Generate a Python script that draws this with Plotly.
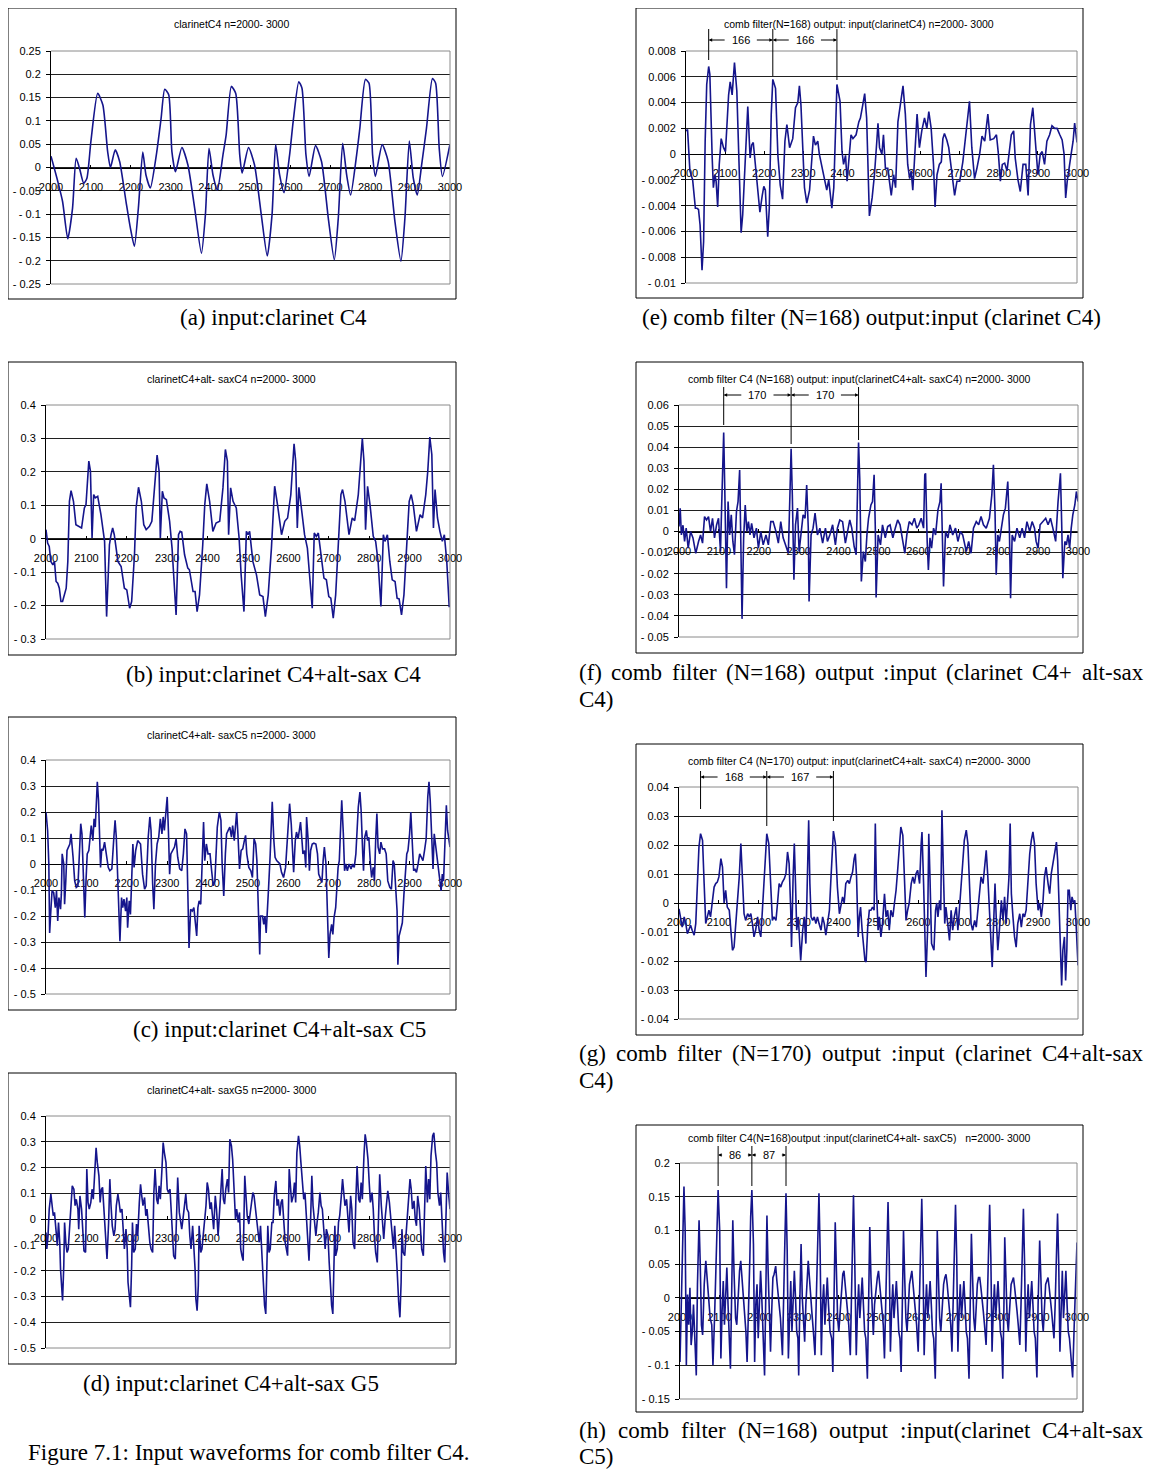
import plotly.graph_objects as go

# page photographed at 1154x1470; the html body adds an 8px margin, so the figure is
# 8px smaller on each axis and every pixel position is shifted by that offset
PAGE_W, PAGE_H = 1154, 1470
OFF = 8
W, H = PAGE_W - OFF, PAGE_H - OFF
SANS = "Liberation Sans, Arial, sans-serif"
SERIF = "Liberation Serif, Times New Roman, serif"
LINE_COLOR = "#15158c"

# ---------------- data (sample index n, amplitude) ----------------
a_pts = [(2000,0.024),(2017,-0.03),(2029,-0.073),(2042,-0.153),(2054,-0.087),(2063,0.02),(2071,0.0),(2082,-0.034),(2090,-0.023),(2100,0.056),(2117,0.159),(2130,0.134),(2142,0.034),(2149,0.0),(2161,0.038),(2172,0.013),(2188,-0.073),(2199,-0.13),(2209,-0.169),(2219,-0.087),(2230,0.033),(2238,-0.016),(2249,-0.044),(2264,0.027),(2276,0.106),(2285,0.168),(2295,0.156),(2303,0.034),(2312,-0.009),(2328,0.043),(2343,0.006),(2360,-0.087),(2377,-0.184),(2387,-0.101),(2396,0.041),(2406,-0.016),(2417,-0.048),(2431,0.027),(2439,0.07),(2452,0.174),(2463,0.159),(2473,0.027),(2479,-0.012),(2495,0.043),(2510,0.006),(2527,-0.101),(2542,-0.19),(2554,-0.101),(2563,0.049),(2573,-0.016),(2584,-0.054),(2598,0.027),(2607,0.099),(2621,0.184),(2629,0.17),(2639,0.027),(2647,-0.019),(2663,0.047),(2678,0.013),(2695,-0.109),(2710,-0.198),(2720,-0.109),(2731,0.052),(2741,-0.016),(2751,-0.059),(2766,0.027),(2774,0.084),(2788,0.189),(2797,0.181),(2806,0.027),(2813,-0.019),(2830,0.049),(2845,0.013),(2862,-0.116),(2877,-0.201),(2887,-0.109),(2898,0.057),(2908,-0.023),(2918,-0.059),(2929,0.006),(2941,0.084),(2956,0.191),(2964,0.181),(2973,0.041),(2981,-0.019),(3000,0.05)]

e_pts = [(2000,0.0018),(2004,0.0019),(2010,-0.0013),(2017,-0.002),(2024,-0.0042),(2028,-0.0042),(2032,-0.0043),(2036,-0.0055),(2041,-0.009),(2045,-0.0068),(2049,0.001),(2053,0.0054),(2058,0.0068),(2061,0.0062),(2067,-0.0003),(2070,-0.0026),(2074,-0.0016),(2077,-0.0021),(2081,-0.0041),(2085,-0.0008),(2090,0.0012),(2096,0.0005),(2101,0.0002),(2109,0.0046),(2113,0.0056),(2118,0.0046),(2124,0.0071),(2130,0.0049),(2137,-0.0021),(2141,-0.0061),(2145,-0.0047),(2151,-0.0006),(2158,0.0037),(2164,-0.0003),(2168,0.0007),(2172,0.0009),(2177,-0.0008),(2183,-0.0026),(2189,-0.0045),(2195,-0.0032),(2199,-0.0025),(2203,-0.0028),(2209,-0.0064),(2213,-0.0042),(2218,0.0031),(2222,0.0058),(2229,0.0051),(2235,-0.0001),(2241,-0.0024),(2247,-0.0035),(2253,0.001),(2258,0.0023),(2265,0.0005),(2273,0.0012),(2280,0.0036),(2286,0.004),(2290,0.0053),(2294,0.0038),(2303,-0.0026),(2309,-0.0038),(2316,-0.0028),(2322,-0.0003),(2326,0.0014),(2331,0.0007),(2337,0.001),(2341,0.0),(2348,-0.001),(2354,-0.0019),(2360,-0.0028),(2365,-0.002),(2373,-0.0042),(2378,-0.0026),(2382,0.0023),(2386,0.0054),(2394,0.0041),(2399,0.0002),(2403,-0.0008),(2408,-0.0001),(2412,-0.0021),(2418,0.0),(2422,0.0015),(2427,0.0012),(2435,0.0015),(2442,0.0025),(2446,0.0028),(2452,0.0038),(2457,0.0047),(2462,0.0028),(2469,-0.0048),(2476,-0.0034),(2482,-0.0016),(2488,0.001),(2491,0.0024),(2495,0.0005),(2501,0.0),(2505,0.0015),(2510,-0.0011),(2516,-0.0011),(2525,-0.0032),(2531,-0.0016),(2536,-0.0026),(2542,0.0025),(2548,0.0038),(2555,0.0053),(2561,0.0031),(2567,-0.0008),(2572,-0.0019),(2576,-0.0013),(2580,-0.0028),(2586,0.0),(2591,0.0031),(2597,0.0005),(2603,0.0018),(2610,0.0028),(2616,0.002),(2621,0.0033),(2627,0.002),(2633,-0.0008),(2637,-0.0041),(2642,-0.0016),(2648,-0.0008),(2653,-0.0006),(2657,0.0012),(2661,0.0016),(2667,0.0011),(2672,0.0005),(2678,-0.0011),(2687,-0.0032),(2693,-0.0021),(2700,-0.0021),(2708,-0.0006),(2717,0.002),(2725,0.0041),(2731,0.0005),(2738,-0.0019),(2744,-0.0011),(2751,0.0),(2757,0.0014),(2764,0.001),(2772,0.0031),(2778,0.0011),(2787,0.0012),(2794,0.0015),(2799,0.0),(2804,-0.0021),(2809,-0.0008),(2815,-0.0007),(2821,-0.0013),(2826,0.0002),(2832,0.0015),(2838,0.0018),(2842,-0.0003),(2849,-0.002),(2855,-0.0029),(2862,-0.0008),(2869,-0.0008),(2875,-0.0032),(2881,0.0023),(2887,0.0036),(2893,0.001),(2900,-0.0016),(2906,0.0),(2911,0.0002),(2917,-0.0008),(2923,0.001),(2930,0.0015),(2936,0.0022),(2943,0.002),(2949,0.002),(2956,0.0015),(2962,0.0011),(2967,0.0),(2971,-0.0034),(2975,-0.0021),(2981,-0.0006),(2985,0.0),(2990,0.001),(2994,0.0024),(3000,0.0009)]

b_pts = [(2000,0.027),(2004,-0.013),(2008,-0.023),(2012,-0.068),(2017,-0.078),(2021,-0.068),(2025,-0.128),(2029,-0.133),(2033,-0.148),(2037,-0.188),(2041,-0.188),(2045,-0.173),(2050,-0.148),(2054,-0.068),(2058,0.112),(2062,0.144),(2068,0.112),(2074,0.042),(2083,0.037),(2088,0.032),(2095,0.092),(2099,0.102),(2106,0.232),(2110,0.202),(2114,0.002),(2118,0.132),(2122,0.122),(2128,0.127),(2136,0.072),(2145,-0.008),(2150,-0.233),(2157,-0.018),(2161,0.012),(2165,0.032),(2169,0.012),(2178,-0.068),(2186,-0.083),(2194,-0.148),(2200,-0.153),(2207,-0.208),(2212,-0.188),(2219,-0.048),(2223,0.092),(2229,0.154),(2236,0.112),(2242,0.042),(2248,0.027),(2256,0.037),(2262,0.052),(2269,0.152),(2275,0.25),(2280,0.202),(2283,0.002),(2288,0.142),(2292,0.122),(2298,0.117),(2306,0.052),(2312,-0.028),(2318,-0.148),(2322,-0.228),(2328,0.012),(2332,0.022),(2336,0.02),(2343,-0.048),(2351,-0.088),(2355,-0.093),(2364,-0.158),(2369,-0.158),(2374,-0.218),(2380,-0.168),(2388,-0.018),(2393,0.102),(2398,0.164),(2405,0.112),(2413,0.022),(2421,0.047),(2430,0.052),(2438,0.152),(2444,0.267),(2449,0.232),(2452,0.012),(2457,0.152),(2463,0.112),(2471,0.092),(2478,0.002),(2483,-0.108),(2490,-0.218),(2496,0.022),(2500,0.012),(2504,0.022),(2512,-0.068),(2521,-0.108),(2529,-0.168),(2537,-0.173),(2543,-0.233),(2550,-0.168),(2558,-0.028),(2562,0.092),(2566,0.157),(2573,0.102),(2583,0.012),(2591,0.052),(2598,0.062),(2606,0.132),(2614,0.284),(2618,0.232),(2622,0.032),(2626,0.154),(2632,0.092),(2640,0.012),(2647,-0.028),(2653,-0.108),(2659,-0.208),(2664,0.017),(2669,0.007),(2674,0.017),(2682,-0.068),(2688,-0.118),(2694,-0.123),(2700,-0.173),(2705,-0.178),(2711,-0.238),(2717,-0.168),(2725,0.002),(2730,0.132),(2734,0.147),(2740,0.112),(2750,0.012),(2758,0.062),(2764,0.054),(2773,0.132),(2783,0.3),(2787,0.232),(2791,0.027),(2796,0.157),(2802,0.102),(2810,0.007),(2816,-0.008),(2822,-0.068),(2829,-0.203),(2835,0.012),(2839,-0.008),(2845,0.012),(2851,-0.068),(2857,-0.123),(2864,-0.128),(2869,-0.178),(2874,-0.18),(2880,-0.228),(2886,-0.168),(2893,-0.008),(2899,0.112),(2904,0.132),(2909,0.102),(2917,0.022),(2926,0.072),(2932,0.062),(2940,0.132),(2945,0.202),(2950,0.304),(2955,0.252),(2959,0.032),(2963,0.147),(2969,0.062),(2975,0.022),(2981,-0.008),(2986,0.012),(2992,-0.068),(2998,-0.203),(3000,-0.203)]

f_pts = [(2000,0.0024),(2003,0.011),(2006,-0.0016),(2010,0.003),(2014,-0.0047),(2018,0.0016),(2023,-0.0079),(2029,0.0),(2035,-0.003),(2042,-0.0103),(2049,-0.0047),(2054,-0.0016),(2059,-0.0055),(2064,0.0071),(2069,0.0055),(2074,0.0071),(2079,0.0),(2084,0.0063),(2089,-0.003),(2094,0.003),(2099,0.0063),(2104,-0.0095),(2107,0.0126),(2110,0.0316),(2112,0.0469),(2115,0.0174),(2119,-0.0269),(2123,0.0142),(2127,-0.0016),(2131,0.0079),(2135,-0.0047),(2139,-0.011),(2144,0.0095),(2148,0.0142),(2152,0.0292),(2156,-0.0174),(2158,-0.0414),(2162,-0.003),(2166,0.0126),(2170,0.0),(2174,0.0047),(2178,-0.0016),(2182,0.0039),(2188,-0.003),(2194,0.0016),(2199,-0.0079),(2205,0.0),(2211,-0.0063),(2218,-0.0016),(2224,-0.0063),(2230,0.0047),(2236,0.0047),(2243,0.0),(2249,-0.0055),(2255,0.0047),(2261,-0.003),(2268,-0.0071),(2274,-0.0103),(2278,0.0174),(2281,0.0392),(2284,0.0174),(2288,-0.0229),(2292,0.0032),(2297,0.0111),(2301,-0.0095),(2305,-0.0016),(2311,0.0079),(2316,0.0063),(2320,0.0221),(2324,0.0016),(2326,-0.0332),(2331,-0.0016),(2336,0.0016),(2341,0.0087),(2347,-0.0016),(2353,0.0016),(2360,-0.0055),(2367,0.0016),(2372,-0.0047),(2378,-0.0016),(2385,0.0032),(2392,-0.0063),(2397,0.0016),(2403,0.0055),(2410,0.0047),(2417,-0.0055),(2423,0.0),(2428,0.0055),(2433,0.0016),(2439,-0.0071),(2444,-0.011),(2447,0.0111),(2450,0.0422),(2453,0.0253),(2457,-0.0237),(2462,-0.0095),(2467,-0.0142),(2471,-0.0016),(2475,0.0063),(2481,0.0126),(2485,0.0142),(2489,0.0269),(2492,0.0016),(2494,-0.0313),(2499,-0.0016),(2505,-0.0063),(2510,0.0032),(2517,-0.003),(2523,0.0024),(2529,0.0032),(2536,-0.003),(2542,0.0016),(2548,0.0055),(2554,0.0032),(2561,-0.0047),(2566,-0.0103),(2571,-0.0016),(2577,0.0047),(2584,0.0032),(2590,0.0063),(2596,0.0016),(2601,0.0032),(2607,0.0063),(2613,0.0016),(2616,0.0269),(2618,0.0276),(2622,-0.0047),(2625,-0.0182),(2629,-0.003),(2633,-0.0079),(2638,0.0016),(2643,-0.0016),(2649,0.0103),(2654,0.0142),(2657,0.0229),(2660,-0.0079),(2663,-0.0261),(2668,0.0),(2674,-0.003),(2679,0.0032),(2686,-0.0016),(2693,0.0016),(2699,-0.0047),(2705,0.0),(2711,-0.0016),(2720,-0.0095),(2726,-0.0047),(2732,-0.0103),(2738,0.0016),(2745,0.0047),(2751,0.0032),(2757,0.0071),(2763,0.0032),(2770,0.0016),(2778,0.0063),(2784,0.0174),(2788,0.0316),(2792,0.0095),(2795,-0.0205),(2799,-0.0016),(2803,-0.0047),(2808,0.0016),(2813,0.0079),(2818,0.0111),(2824,0.0237),(2828,0.0016),(2831,-0.0316),(2835,-0.0016),(2841,-0.0047),(2847,0.0016),(2854,-0.003),(2860,0.0016),(2866,-0.003),(2872,0.0047),(2879,0.0),(2885,0.0047),(2891,0.0016),(2895,-0.0047),(2900,-0.0079),(2905,0.0032),(2912,0.0047),(2919,0.0063),(2925,0.0032),(2931,0.0063),(2937,0.0016),(2944,-0.0047),(2950,0.0142),(2956,0.0276),(2959,0.0047),(2962,-0.0221),(2967,-0.0047),(2971,-0.0063),(2975,-0.0016),(2979,-0.0079),(2983,0.0016),(2987,0.0079),(2992,0.0126),(2996,0.019),(3000,0.0142)]

c_pts = [(2000,0.2),(2004,0.129),(2007,0.0),(2009,-0.265),(2012,-0.18),(2015,-0.103),(2019,-0.11),(2023,-0.168),(2026,-0.103),(2029,-0.219),(2032,-0.129),(2036,-0.174),(2038,-0.116),(2040,0.039),(2044,0.0),(2046,-0.155),(2049,-0.065),(2052,0.052),(2059,0.077),(2062,0.116),(2067,0.026),(2071,-0.065),(2075,-0.09),(2079,-0.084),(2083,0.052),(2086,0.155),(2089,0.116),(2093,-0.065),(2096,-0.206),(2099,-0.065),(2102,0.039),(2106,0.052),(2109,0.103),(2112,0.148),(2116,0.09),(2119,0.174),(2122,0.142),(2125,0.232),(2127,0.316),(2130,0.245),(2132,0.09),(2135,-0.013),(2138,0.058),(2141,0.052),(2145,0.084),(2150,0.039),(2154,-0.013),(2158,-0.026),(2163,-0.019),(2168,0.103),(2171,0.168),(2174,0.103),(2178,-0.065),(2181,-0.245),(2183,-0.297),(2187,-0.129),(2190,-0.168),(2193,-0.135),(2197,-0.181),(2200,-0.129),(2202,-0.245),(2206,-0.142),(2209,-0.194),(2212,-0.065),(2215,0.077),(2218,-0.013),(2222,0.052),(2227,0.09),(2234,0.077),(2239,-0.039),(2244,-0.097),(2248,-0.084),(2253,0.103),(2257,0.181),(2260,0.129),(2264,-0.077),(2267,-0.174),(2271,0.0),(2275,0.077),(2279,0.103),(2283,0.174),(2287,0.116),(2290,0.181),(2293,0.129),(2296,0.181),(2300,0.258),(2303,0.129),(2306,-0.039),(2309,0.039),(2313,0.052),(2318,0.065),(2322,0.097),(2326,0.026),(2331,-0.019),(2336,-0.026),(2340,0.039),(2344,0.135),(2348,0.116),(2351,-0.09),(2354,-0.323),(2358,-0.174),(2362,-0.181),(2366,-0.168),(2369,-0.219),(2373,-0.277),(2376,-0.168),(2379,-0.142),(2383,-0.155),(2387,0.0),(2390,0.161),(2393,0.013),(2397,0.077),(2401,0.039),(2406,0.039),(2410,-0.026),(2414,-0.084),(2418,-0.065),(2421,0.039),(2424,0.142),(2429,0.2),(2433,0.168),(2436,0.0),(2440,-0.123),(2444,0.039),(2447,0.116),(2451,0.129),(2455,0.142),(2459,0.103),(2462,0.148),(2466,0.09),(2469,0.148),(2472,0.2),(2475,0.116),(2479,-0.019),(2483,0.052),(2487,0.058),(2491,0.09),(2494,0.11),(2497,0.039),(2502,-0.013),(2507,-0.026),(2511,-0.052),(2515,0.097),(2519,0.077),(2522,0.013),(2525,-0.129),(2527,-0.284),(2529,-0.348),(2531,-0.2),(2536,-0.2),(2539,-0.232),(2542,-0.2),(2545,-0.265),(2548,-0.194),(2551,-0.09),(2555,0.039),(2558,0.168),(2560,0.239),(2564,0.09),(2567,0.026),(2571,0.013),(2575,0.006),(2579,0.0),(2583,-0.032),(2588,-0.052),(2593,-0.013),(2596,0.052),(2599,0.129),(2603,0.232),(2607,0.155),(2610,0.039),(2613,-0.032),(2617,0.09),(2620,0.123),(2624,0.097),(2627,0.135),(2630,0.161),(2633,0.103),(2636,0.039),(2640,0.052),(2643,-0.013),(2645,0.181),(2649,0.09),(2652,-0.026),(2655,0.052),(2659,0.077),(2663,0.08),(2668,0.077),(2672,0.039),(2675,-0.039),(2679,-0.058),(2683,-0.071),(2686,0.013),(2689,0.065),(2693,0.0),(2695,-0.129),(2698,-0.271),(2700,-0.361),(2703,-0.271),(2707,-0.232),(2710,-0.271),(2713,-0.206),(2717,-0.168),(2720,-0.09),(2723,-0.013),(2726,0.013),(2729,0.116),(2732,0.245),(2736,0.116),(2739,-0.026),(2742,0.0),(2746,-0.026),(2750,0.0),(2755,-0.019),(2759,0.0),(2763,-0.013),(2767,0.039),(2770,0.129),(2773,0.219),(2777,0.277),(2780,0.206),(2784,0.039),(2786,-0.026),(2789,0.103),(2793,0.129),(2796,0.09),(2799,0.103),(2803,0.0),(2806,-0.052),(2810,-0.013),(2813,-0.065),(2816,0.09),(2819,0.194),(2822,0.065),(2826,0.039),(2829,0.084),(2833,0.058),(2838,0.058),(2842,0.039),(2846,-0.065),(2851,-0.09),(2855,-0.097),(2859,0.013),(2862,0.0),(2865,-0.065),(2869,-0.181),(2871,-0.387),(2874,-0.277),(2878,-0.252),(2882,-0.226),(2886,-0.116),(2889,-0.039),(2893,0.039),(2896,0.052),(2900,0.116),(2903,0.2),(2907,0.052),(2910,-0.026),(2913,-0.019),(2917,-0.032),(2921,0.0),(2925,0.039),(2929,0.026),(2933,0.013),(2937,0.052),(2941,0.097),(2945,0.258),(2948,0.316),(2951,0.245),(2955,0.077),(2958,-0.019),(2961,0.116),(2964,0.077),(2968,0.013),(2971,-0.013),(2974,-0.065),(2978,-0.103),(2981,-0.039),(2984,-0.065),(2988,0.103),(2991,0.226),(2994,0.129),(2997,0.09),(3000,0.065)]

g_pts = [(2000,-0.002),(2004,-0.0048),(2008,-0.0083),(2013,-0.0048),(2017,-0.0071),(2021,-0.0106),(2025,-0.0089),(2029,-0.0077),(2033,-0.0094),(2038,-0.0111),(2042,-0.0071),(2046,0.0067),(2050,0.0193),(2054,0.0239),(2059,0.0216),(2063,0.0067),(2067,-0.0071),(2071,-0.0048),(2075,-0.0025),(2079,-0.0048),(2084,0.0021),(2088,0.0055),(2092,0.0067),(2096,0.0072),(2100,0.009),(2105,0.0153),(2109,0.0124),(2113,0.0),(2117,0.0044),(2121,-0.0014),(2126,-0.0025),(2130,-0.0094),(2134,-0.0163),(2138,-0.0152),(2142,-0.0071),(2146,-0.0025),(2151,0.009),(2155,0.0205),(2159,0.009),(2163,-0.0037),(2167,-0.006),(2172,-0.0037),(2176,-0.0048),(2180,-0.0037),(2184,-0.0071),(2188,-0.0117),(2192,-0.0094),(2197,-0.0048),(2201,-0.0094),(2205,-0.0117),(2209,-0.0025),(2213,0.009),(2217,0.0193),(2220,0.0239),(2225,0.0205),(2230,0.0055),(2234,-0.006),(2238,-0.0048),(2243,-0.006),(2247,0.0),(2251,0.0067),(2255,0.0055),(2259,0.0072),(2264,0.0084),(2268,0.0101),(2272,0.0176),(2276,0.0136),(2280,-0.0025),(2282,-0.0152),(2286,0.009),(2289,0.0205),(2292,0.0067),(2295,-0.0094),(2299,-0.0048),(2302,-0.014),(2305,-0.0198),(2310,-0.0094),(2314,-0.0048),(2318,-0.014),(2321,0.0055),(2325,0.0285),(2328,0.0067),(2331,-0.0048),(2335,-0.006),(2339,-0.0048),(2343,-0.0071),(2347,-0.0048),(2351,-0.0071),(2356,-0.0094),(2360,-0.0048),(2364,-0.0071),(2368,-0.0111),(2372,-0.0071),(2377,-0.0025),(2381,0.009),(2384,0.0205),(2387,0.0248),(2392,0.0205),(2397,0.0055),(2402,-0.0037),(2406,0.0),(2410,0.0021),(2414,0.0),(2418,0.0067),(2423,0.0078),(2427,0.0067),(2431,0.009),(2435,0.0107),(2439,0.0153),(2442,0.017),(2445,0.009),(2449,-0.0117),(2452,-0.0048),(2455,-0.0014),(2459,-0.0094),(2462,-0.014),(2466,-0.0198),(2469,-0.0203),(2473,-0.0083),(2477,-0.0025),(2481,-0.0025),(2485,-0.0014),(2489,-0.0025),(2492,0.0274),(2495,0.0044),(2499,-0.0094),(2502,-0.0048),(2506,-0.0117),(2510,-0.0071),(2515,0.0032),(2519,-0.0048),(2523,-0.0025),(2527,-0.0094),(2531,-0.0025),(2536,-0.0048),(2540,0.0),(2544,0.0044),(2548,0.0113),(2552,0.0205),(2556,0.0262),(2561,0.0233),(2565,0.009),(2569,-0.006),(2573,-0.0025),(2577,0.0),(2582,0.0067),(2586,0.009),(2590,0.0067),(2594,0.0101),(2598,0.0113),(2603,0.0067),(2607,0.0205),(2609,0.0245),(2613,0.0067),(2616,-0.014),(2619,-0.0255),(2623,-0.0094),(2626,0.0239),(2629,0.009),(2633,-0.014),(2636,-0.0152),(2639,-0.0163),(2643,-0.0025),(2646,0.0),(2649,-0.0048),(2653,0.0009),(2656,-0.0025),(2659,0.032),(2663,0.009),(2666,-0.0071),(2669,-0.0014),(2674,-0.0094),(2678,-0.0129),(2682,-0.0025),(2686,-0.0094),(2690,-0.0048),(2695,-0.0014),(2699,-0.0094),(2703,-0.0025),(2707,0.0044),(2711,0.0136),(2715,0.0216),(2720,0.0251),(2724,0.0205),(2728,0.0067),(2732,-0.0071),(2736,-0.0094),(2741,-0.006),(2745,-0.0083),(2749,-0.0025),(2753,0.0044),(2757,0.009),(2762,0.0067),(2766,0.0136),(2770,0.0182),(2774,0.009),(2778,-0.0025),(2782,-0.014),(2785,-0.0221),(2788,-0.0094),(2792,0.0067),(2795,-0.0048),(2799,-0.0163),(2803,-0.0094),(2808,0.0009),(2812,-0.006),(2816,0.0021),(2820,-0.0071),(2827,0.009),(2830,0.0274),(2833,0.0032),(2837,-0.0048),(2841,-0.0117),(2845,-0.0152),(2849,-0.0071),(2854,-0.0037),(2858,-0.0083),(2862,-0.0037),(2866,-0.0048),(2870,-0.0025),(2874,0.0067),(2879,0.017),(2883,0.0216),(2887,0.0245),(2891,0.0205),(2895,0.0067),(2900,-0.0025),(2904,0.0),(2908,-0.0048),(2912,0.0),(2916,0.009),(2920,0.0124),(2925,0.0067),(2929,0.0032),(2933,0.0101),(2937,0.0136),(2941,0.0159),(2946,0.021),(2949,0.0147),(2953,-0.0025),(2956,-0.0198),(2959,-0.0284),(2962,-0.0163),(2966,-0.0117),(2969,-0.0267),(2972,-0.0163),(2975,0.0044),(2978,0.0044),(2982,-0.0025),(2985,0.0021),(2989,0.0),(2992,0.0009),(2996,-0.0094),(3000,-0.0215)]

d_pts = [(2000,-0.052),(2002,-0.116),(2005,-0.065),(2008,0.039),(2012,0.097),(2015,0.039),(2018,0.013),(2021,0.026),(2025,-0.052),(2028,-0.103),(2031,-0.013),(2034,-0.09),(2036,-0.194),(2039,-0.29),(2041,-0.316),(2044,-0.181),(2046,-0.013),(2049,-0.09),(2052,-0.129),(2055,-0.116),(2059,-0.026),(2062,0.039),(2065,0.129),(2069,0.116),(2072,0.052),(2075,0.077),(2079,0.039),(2081,-0.039),(2084,0.09),(2088,0.039),(2091,-0.052),(2094,-0.123),(2098,-0.129),(2101,0.194),(2104,0.065),(2107,0.039),(2111,0.065),(2114,0.116),(2117,0.077),(2121,0.194),(2124,0.277),(2127,0.219),(2131,0.168),(2134,0.065),(2137,0.116),(2140,0.123),(2144,0.013),(2147,-0.09),(2151,-0.155),(2155,-0.013),(2158,0.155),(2161,0.052),(2164,-0.026),(2168,-0.065),(2171,-0.039),(2174,0.052),(2178,0.097),(2181,0.065),(2184,0.026),(2188,0.039),(2191,-0.052),(2194,-0.116),(2198,-0.039),(2201,-0.116),(2203,-0.245),(2206,-0.31),(2209,-0.342),(2212,-0.181),(2214,-0.013),(2217,-0.129),(2221,-0.116),(2224,-0.019),(2227,-0.065),(2231,0.065),(2234,0.135),(2237,0.09),(2240,0.052),(2244,0.084),(2247,0.013),(2250,0.039),(2254,-0.052),(2257,-0.09),(2260,-0.116),(2264,-0.129),(2267,0.103),(2270,0.194),(2274,0.077),(2277,0.058),(2280,0.129),(2283,0.077),(2287,0.194),(2290,0.297),(2293,0.258),(2297,0.219),(2300,0.116),(2303,0.103),(2307,0.116),(2310,0.039),(2313,-0.026),(2316,-0.142),(2320,-0.155),(2323,0.039),(2326,0.161),(2330,0.026),(2333,-0.019),(2336,-0.039),(2339,0.0),(2343,0.065),(2346,0.097),(2349,0.039),(2353,0.026),(2356,-0.065),(2359,-0.116),(2363,-0.026),(2366,-0.09),(2369,-0.194),(2371,-0.31),(2374,-0.355),(2377,-0.258),(2379,-0.026),(2383,-0.129),(2386,-0.116),(2389,-0.065),(2393,0.0),(2396,0.052),(2399,0.142),(2402,0.116),(2406,0.039),(2409,0.065),(2412,0.013),(2415,-0.039),(2419,0.09),(2422,0.039),(2426,-0.065),(2429,0.039),(2432,0.09),(2436,0.194),(2439,0.077),(2442,0.058),(2445,0.116),(2449,0.155),(2452,0.103),(2455,0.31),(2459,0.284),(2462,0.232),(2465,0.129),(2469,0.0),(2472,0.039),(2476,-0.013),(2479,0.026),(2482,-0.116),(2485,-0.142),(2488,-0.161),(2492,0.168),(2495,0.103),(2498,0.013),(2502,-0.019),(2505,0.013),(2508,0.052),(2512,0.103),(2515,0.09),(2518,0.039),(2521,0.0),(2525,-0.052),(2528,-0.09),(2531,-0.026),(2535,-0.155),(2538,-0.284),(2541,-0.335),(2544,-0.368),(2546,-0.194),(2549,-0.026),(2552,-0.129),(2555,-0.116),(2559,-0.013),(2562,-0.013),(2565,0.09),(2569,0.148),(2572,0.052),(2575,0.077),(2579,0.013),(2582,0.065),(2585,0.077),(2588,0.0),(2592,-0.09),(2595,-0.116),(2598,-0.142),(2602,0.194),(2605,0.103),(2608,0.065),(2612,0.09),(2615,0.142),(2618,0.065),(2621,0.258),(2625,0.323),(2628,0.284),(2631,0.219),(2635,0.129),(2638,0.077),(2641,0.103),(2645,0.013),(2648,-0.09),(2651,-0.161),(2655,0.0),(2658,0.168),(2661,0.052),(2665,-0.026),(2668,-0.065),(2671,-0.013),(2674,0.026),(2678,0.103),(2681,0.052),(2684,0.039),(2688,-0.039),(2691,-0.116),(2694,-0.039),(2698,-0.065),(2701,-0.168),(2704,-0.284),(2707,-0.335),(2710,-0.368),(2712,-0.219),(2715,-0.026),(2717,-0.142),(2721,-0.116),(2724,-0.013),(2727,0.013),(2731,0.09),(2734,0.155),(2737,0.103),(2740,0.052),(2744,0.077),(2747,0.0),(2750,-0.052),(2754,0.09),(2757,0.039),(2760,-0.09),(2764,-0.116),(2767,0.077),(2770,0.206),(2774,0.077),(2777,0.065),(2780,0.142),(2783,0.077),(2787,0.245),(2790,0.329),(2793,0.297),(2797,0.232),(2800,0.142),(2803,0.065),(2807,0.103),(2810,0.039),(2813,-0.065),(2816,-0.129),(2820,-0.168),(2823,0.0),(2826,0.174),(2830,0.052),(2833,-0.039),(2836,-0.077),(2840,0.013),(2843,0.065),(2846,0.11),(2850,0.065),(2853,0.013),(2856,-0.065),(2860,-0.116),(2863,-0.026),(2866,-0.09),(2869,-0.194),(2873,-0.323),(2876,-0.381),(2879,-0.245),(2881,-0.039),(2884,-0.129),(2888,-0.142),(2891,-0.065),(2894,0.013),(2898,0.09),(2901,0.155),(2904,0.116),(2907,0.039),(2911,0.071),(2914,0.0),(2917,-0.026),(2920,0.09),(2924,0.039),(2927,-0.052),(2930,-0.116),(2934,-0.142),(2937,0.09),(2940,0.206),(2944,0.065),(2947,0.155),(2950,0.077),(2953,0.245),(2957,0.323),(2960,0.335),(2964,0.258),(2967,0.219),(2970,0.103),(2974,0.052),(2977,0.103),(2980,0.0),(2984,-0.129),(2987,-0.168),(2990,0.039),(2993,0.181),(2997,0.09),(3000,0.039)]

h_pts = [(2000,-0.095),(2004,0.03),(2007,0.12),(2010,0.165),(2013,0.1),(2016,-0.1),(2019,0.005),(2022,-0.04),(2025,0.015),(2028,-0.07),(2031,-0.05),(2034,-0.01),(2038,-0.07),(2041,-0.115),(2044,0.02),(2048,0.115),(2051,0.05),(2054,-0.04),(2057,-0.055),(2061,0.02),(2065,0.055),(2068,0.03),(2072,0.0),(2076,-0.03),(2080,-0.04),(2083,-0.1),(2087,-0.03),(2090,0.05),(2093,0.1),(2096,0.16),(2100,0.1),(2103,-0.09),(2106,-0.02),(2109,0.025),(2112,-0.04),(2115,0.0),(2118,0.045),(2121,-0.01),(2124,-0.06),(2127,-0.105),(2130,0.0),(2133,0.115),(2136,0.04),(2140,-0.03),(2143,-0.04),(2147,0.01),(2150,0.04),(2153,0.055),(2156,0.03),(2160,0.005),(2163,-0.02),(2166,-0.05),(2169,-0.095),(2173,-0.02),(2176,0.06),(2178,0.12),(2181,0.16),(2185,0.08),(2188,-0.095),(2191,-0.01),(2194,0.02),(2197,-0.06),(2200,-0.02),(2203,0.04),(2206,0.0),(2209,-0.05),(2213,-0.115),(2216,0.0),(2219,0.122),(2222,0.04),(2225,-0.04),(2228,-0.08),(2231,-0.02),(2234,0.03),(2237,0.035),(2241,0.047),(2244,0.025),(2247,0.005),(2250,-0.005),(2253,-0.03),(2258,-0.085),(2261,-0.02),(2264,0.08),(2267,0.155),(2270,0.07),(2273,-0.09),(2276,-0.02),(2279,0.025),(2282,-0.05),(2285,0.0),(2288,0.04),(2291,0.0),(2294,-0.05),(2297,-0.06),(2299,-0.115),(2302,0.0),(2305,0.08),(2308,0.0),(2311,-0.04),(2314,-0.065),(2317,-0.01),(2320,0.02),(2323,0.055),(2326,0.03),(2329,0.0),(2332,-0.02),(2336,-0.05),(2340,-0.085),(2343,-0.01),(2346,0.08),(2350,0.155),(2353,0.07),(2356,-0.085),(2359,-0.01),(2362,0.02),(2365,-0.04),(2368,0.0),(2371,0.03),(2374,-0.01),(2378,-0.05),(2382,-0.06),(2385,-0.11),(2388,0.0),(2391,0.112),(2394,0.04),(2397,-0.03),(2400,-0.05),(2404,-0.01),(2407,0.02),(2410,0.035),(2413,0.04),(2416,0.02),(2419,0.0),(2422,-0.02),(2425,-0.04),(2429,-0.085),(2432,-0.01),(2435,0.08),(2437,0.152),(2440,0.06),(2444,-0.085),(2447,-0.02),(2450,0.02),(2453,-0.03),(2456,0.0),(2459,0.03),(2462,-0.01),(2465,-0.05),(2468,-0.06),(2472,-0.12),(2475,-0.01),(2478,0.105),(2481,0.03),(2484,-0.03),(2487,-0.055),(2490,-0.01),(2494,0.02),(2497,0.03),(2500,0.04),(2503,0.02),(2506,0.0),(2509,-0.02),(2512,-0.04),(2515,-0.09),(2518,-0.01),(2521,0.07),(2524,0.142),(2527,0.06),(2530,-0.08),(2533,-0.02),(2536,0.02),(2539,-0.03),(2542,0.0),(2545,0.025),(2548,-0.01),(2551,-0.05),(2554,-0.06),(2557,-0.11),(2560,-0.01),(2563,0.1),(2566,0.03),(2569,-0.03),(2572,-0.05),(2575,-0.01),(2578,0.02),(2581,0.03),(2584,0.04),(2587,0.02),(2590,0.0),(2593,-0.02),(2596,-0.04),(2600,-0.08),(2603,-0.01),(2606,0.07),(2609,0.147),(2612,0.06),(2615,-0.085),(2618,-0.02),(2621,0.02),(2624,-0.03),(2627,0.0),(2630,0.025),(2633,-0.01),(2636,-0.05),(2639,-0.06),(2643,-0.12),(2646,-0.01),(2648,0.1),(2651,0.03),(2654,-0.03),(2657,-0.05),(2660,-0.01),(2664,0.02),(2667,0.03),(2670,0.035),(2673,0.02),(2676,0.0),(2679,-0.02),(2682,-0.04),(2685,-0.08),(2688,-0.01),(2691,0.07),(2694,0.138),(2697,0.06),(2700,-0.08),(2703,-0.02),(2706,0.02),(2709,-0.03),(2712,0.0),(2715,0.025),(2718,-0.01),(2721,-0.05),(2724,-0.06),(2728,-0.12),(2731,-0.01),(2734,0.095),(2737,0.03),(2740,-0.03),(2743,-0.05),(2746,-0.01),(2749,0.02),(2752,0.03),(2755,0.03),(2758,0.015),(2761,0.0),(2764,-0.02),(2767,-0.04),(2771,-0.07),(2774,-0.01),(2777,0.07),(2780,0.138),(2783,0.06),(2786,-0.08),(2789,-0.02),(2792,0.02),(2795,-0.03),(2798,0.0),(2801,0.025),(2804,-0.01),(2807,-0.05),(2810,-0.06),(2813,-0.12),(2816,-0.01),(2818,0.09),(2821,0.03),(2824,-0.03),(2827,-0.05),(2830,-0.01),(2834,0.02),(2837,0.025),(2840,0.03),(2843,0.015),(2846,0.0),(2849,-0.02),(2852,-0.04),(2856,-0.07),(2859,-0.01),(2862,0.07),(2865,0.132),(2868,0.05),(2871,-0.08),(2874,-0.02),(2877,0.02),(2880,-0.03),(2883,0.0),(2886,0.025),(2889,-0.01),(2892,-0.05),(2895,-0.06),(2899,-0.118),(2902,-0.01),(2906,0.085),(2909,0.03),(2912,-0.03),(2915,-0.05),(2918,-0.01),(2921,0.02),(2924,0.025),(2927,0.03),(2930,0.015),(2933,0.0),(2936,-0.02),(2939,-0.04),(2942,-0.06),(2945,-0.01),(2948,0.06),(2951,0.125),(2954,0.05),(2957,-0.08),(2960,-0.02),(2963,0.04),(2966,-0.03),(2969,0.0),(2972,0.04),(2975,-0.01),(2978,-0.05),(2981,-0.06),(2985,-0.09),(2989,-0.118),(2993,-0.04),(2996,0.03),(3000,0.082)]

x_ticks = list(range(2000, 3001, 100))

titles = {
    "a": "clarinetC4 n=2000- 3000",
    "e": "comb filter(N=168) output: input(clarinetC4) n=2000- 3000",
    "b": "clarinetC4+alt- saxC4 n=2000- 3000",
    "f": "comb filter C4 (N=168) output: input(clarinetC4+alt- saxC4) n=2000- 3000",
    "c": "clarinetC4+alt- saxC5 n=2000- 3000",
    "g": "comb filter C4 (N=170) output: input(clarinetC4+alt- saxC4) n=2000- 3000",
    "d": "clarinetC4+alt- saxG5 n=2000- 3000",
    "h": "comb filter C4(N=168)output :input(clarinetC4+alt- saxC5)   n=2000- 3000",
}

# period markers on the comb-filter outputs: marker positions (n) and interval labels
marks = {
    "e": ([2058, 2222, 2386], ["166", "166"]),
    "f": ([2112, 2281, 2450], ["170", "170"]),
    "g": ([2054, 2220, 2387], ["168", "167"]),
    "h": ([2096, 2181, 2267], ["86", "87"]),
}

# ---------------- layout geometry (page pixels) ----------------
P = [
    # key, pts, plot(l,t,r,b), box(l,t,r,b), yrange, dtick, title(x,y), spline
    ("a", a_pts, (51, 51, 450, 284), (8, 8, 456, 299), (-0.25, 0.25), 0.05, (231, 24), True),
    ("e", e_pts, (686, 51, 1077, 283), (636, 8, 1083, 298), (-0.01, 0.008), 0.002, (859, 24), False),
    ("b", b_pts, (46, 405, 450, 639), (8, 362, 456, 655), (-0.3, 0.4), 0.1, (231, 379), False),
    ("f", f_pts, (679, 405, 1078, 637), (636, 362, 1083, 653), (-0.05, 0.06), 0.01, (859, 379), False),
    ("c", c_pts, (46, 760, 450, 994), (8, 717, 456, 1010), (-0.5, 0.4), 0.1, (231, 735), False),
    ("g", g_pts, (679, 787, 1078, 1019), (636, 744, 1083, 1035), (-0.04, 0.04), 0.01, (859, 761), False),
    ("d", d_pts, (46, 1116, 450, 1348), (8, 1073, 456, 1364), (-0.5, 0.4), 0.1, (231, 1090), False),
    ("h", h_pts, (680, 1163, 1077, 1399), (636, 1125, 1083, 1412), (-0.15, 0.2), 0.05, (859, 1138), False),
]
# marker geometry: (top px, bottoms px, arrow y px)
MG = {
    "e": (29, [60, 76, 80], 40),
    "f": (387, [425, 444, 440], 395),
    "g": (771, [809, 826, 821], 777),
    "h": (1146, [1186, 1186, 1186], 1155),
}

def px(x):
    return (x - OFF) / W

def py(y):
    return 1 - (y - OFF) / H

def fmt(v):
    if abs(v) < 1e-12:
        return "0"
    s = "%g" % abs(v)
    return s if v > 0 else "- " + s

fig = go.Figure()
shapes, annots = [], []
layout = {}

for i, (key, pts, (l, t, r, b), box, (y0, y1), dt, (tx, ty), smooth) in enumerate(P, start=1):
    xn = "x" if i == 1 else "x%d" % i
    yn = "y" if i == 1 else "y%d" % i
    n = [p[0] for p in pts]
    v = [p[1] for p in pts]
    fig.add_trace(go.Scatter(
        x=n, y=v, xaxis=xn, yaxis=yn, mode="lines",
        line=dict(color=LINE_COLOR, width=1.6, shape="spline" if smooth else "linear", smoothing=0.6),
        hoverinfo="skip", showlegend=False))
    nt = int(round((y1 - y0) / dt))
    yt = [round(y0 + k * dt, 6) for k in range(nt + 1)]
    dom_y = [py(b), py(t)]
    zero_pos = dom_y[0] + (0 - y0) / (y1 - y0) * (dom_y[1] - dom_y[0])
    layout["xaxis" if i == 1 else "xaxis%d" % i] = dict(
        domain=[px(l), px(r)], range=[2000, 3000], anchor="free", position=zero_pos,
        automargin=False,
        tickmode="array", tickvals=x_ticks, ticktext=[str(x) for x in x_ticks],
        showgrid=False, zeroline=False, showline=True, linecolor="black", linewidth=1,
        ticks="inside", ticklen=3, tickcolor="black", ticklabelstandoff=9,
        tickfont=dict(family=SANS, size=11, color="black"), layer="below traces", fixedrange=True)
    layout["yaxis" if i == 1 else "yaxis%d" % i] = dict(
        domain=dom_y, range=[y0, y1], anchor=xn, automargin=False,
        tickmode="array", tickvals=yt, ticktext=[fmt(x) for x in yt],
        showgrid=True, gridcolor="#202020", gridwidth=1, zeroline=False,
        showline=True, linecolor="black", linewidth=1,
        ticks="outside", ticklen=4, tickcolor="black", ticklabelstandoff=3,
        tickfont=dict(family=SANS, size=11, color="black"), fixedrange=True)
    # outer chart box
    shapes.append(dict(type="rect", xref="paper", yref="paper",
                       x0=px(box[0]), x1=px(box[2]), y0=py(box[3]), y1=py(box[1]),
                       line=dict(color="black", width=1), layer="above"))
    # plot-area border (top/right/bottom, gray)
    for (xa, ya, xb, yb) in [(0, 1, 1, 1), (1, 1, 1, 0), (0, 0, 1, 0)]:
        shapes.append(dict(type="line", xref=xn + " domain", yref=yn + " domain",
                           x0=xa, y0=ya, x1=xb, y1=yb,
                           line=dict(color="#8a8a8a", width=1), layer="above"))
    annots.append(dict(text=titles[key], x=px(tx), y=py(ty), xref="paper", yref="paper",
                       xanchor="center", yanchor="middle", showarrow=False,
                       font=dict(family=SANS, size=10.5, color="black")))
    if key in marks:
        mx, labels = marks[key]
        top, bottoms, ay_px = MG[key]
        pps = (r - l) / 1000.0
        for xv, bt in zip(mx, bottoms):
            shapes.append(dict(type="line", xref=xn, yref="paper", x0=xv, x1=xv,
                               y0=py(bt), y1=py(top), line=dict(color="black", width=1)))
        for (xa, xb), lab in zip(zip(mx[:-1], mx[1:]), labels):
            mid = (xa + xb) / 2
            half = (xb - xa) * pps / 2
            lab_half = 5 + 3.2 * len(lab)
            tail = max(half - lab_half, 4)
            annots.append(dict(text=lab, x=mid, y=py(ay_px), xref=xn, yref="paper",
                               xanchor="center", yanchor="middle", showarrow=False,
                               font=dict(family=SANS, size=11, color="black")))
            for xh, sgn in ((xa, 1), (xb, -1)):
                annots.append(dict(text="", x=xh, y=py(ay_px), xref=xn, yref="paper",
                                   ax=sgn * tail, ay=0, showarrow=True, arrowhead=2,
                                   arrowsize=0.7, arrowwidth=1, arrowcolor="black", standoff=0))

# ---------------- captions ----------------
TW = {"(": 333, ")": 333, "a": 444, "b": 500, "c": 444, "d": 500, "e": 444, "f": 333,
      "g": 500, "h": 500, "i": 278, "l": 278, "m": 778, "n": 500, "o": 500, "p": 500,
      "r": 333, "s": 389, "t": 278, "u": 500, "x": 500, "C": 667, "N": 722, "G": 722,
      "=": 564, "+": 564, "-": 333, ":": 278, " ": 250}

def tw(s, size):
    return sum(TW.get(ch, 500) for ch in s) / 1000.0 * size

CAP = 23

def cap_center(text, cx, cy):
    annots.append(dict(text=text, x=px(cx), y=py(cy), xref="paper", yref="paper",
                       xanchor="center", yanchor="middle", showarrow=False,
                       font=dict(family=SERIF, size=CAP, color="black")))

def cap_left(text, x, cy):
    annots.append(dict(text=text, x=px(x), y=py(cy), xref="paper", yref="paper",
                       xanchor="left", yanchor="middle", showarrow=False,
                       font=dict(family=SERIF, size=CAP, color="black")))

def cap_justified(words, x0, x1, cy):
    ws = [tw(w, CAP) for w in words]
    gap = (x1 - x0 - sum(ws)) / (len(words) - 1)
    x = x0
    for w, wd in zip(words, ws):
        cap_left(w, x, cy)
        x += wd + gap

cap_center("(a) input:clarinet C4", 273, 317)
cap_center("(e) comb filter (N=168) output:input (clarinet C4)", 871, 317)
cap_center("(b) input:clarinet C4+alt-sax C4", 273, 674)
cap_center("(c) input:clarinet C4+alt-sax C5", 279, 1029)
cap_center("(d) input:clarinet C4+alt-sax G5", 231, 1383)
cap_justified(["(f)", "comb", "filter", "(N=168)", "output", ":input", "(clarinet", "C4+", "alt-sax"], 577, 1141, 672)
cap_left("C4)", 577, 699)
cap_justified(["(g)", "comb", "filter", "(N=170)", "output", ":input", "(clarinet", "C4+alt-sax"], 577, 1141, 1053)
cap_left("C4)", 577, 1080)
cap_justified(["(h)", "comb", "filter", "(N=168)", "output", ":input(clarinet", "C4+alt-sax"], 577, 1141, 1430)
cap_left("C5)", 577, 1456)
cap_left("Figure 7.1: Input waveforms for comb filter C4.", 26, 1452)

fig.update_layout(
    template="none",
    width=W, height=H, margin=dict(l=0, r=0, t=0, b=0, pad=0),
    paper_bgcolor="white", plot_bgcolor="white", showlegend=False,
    shapes=shapes, annotations=annots, **layout)

fig.write_html("out.html")
